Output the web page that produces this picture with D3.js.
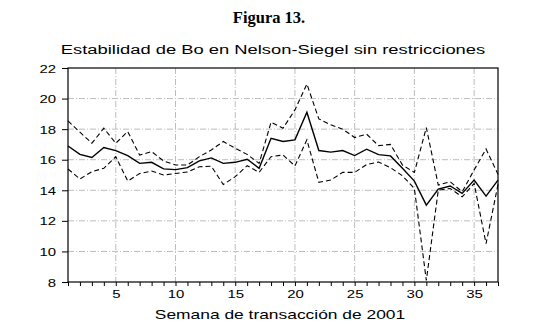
<!DOCTYPE html>
<html>
<head>
<meta charset="utf-8">
<script src="https://cdn.jsdelivr.net/npm/d3@7/dist/d3.min.js"></script>
<style>
  html, body { margin: 0; padding: 0; background: #fff; }
  svg { display: block; }
</style>
</head>
<body>
<svg id="chart" width="555" height="334"></svg>
<script>
// Weekly estimates of Bo (Nelson-Siegel, unrestricted) with upper/lower bands
const weeks = d3.range(1, 38);
const central = [16.9, 16.35, 16.15, 16.8, 16.6, 16.27, 15.76, 15.83, 15.4, 15.35,
                 15.48, 15.92, 16.12, 15.76, 15.83, 16.03, 15.44, 17.4, 17.19, 17.3,
                 19.11, 16.6, 16.5, 16.6, 16.27, 16.69, 16.33, 16.25, 15.44, 14.6,
                 13.03, 14.08, 14.28, 13.8, 14.67, 13.62, 14.67];
const upper = [18.54, 17.8, 17.08, 18.06, 17.08, 17.84, 16.3, 16.53, 15.92, 15.65,
               15.65, 16.2, 16.64, 17.19, 16.75, 16.35, 15.76, 18.46, 18.06, 19.26,
               20.95, 18.67, 18.28, 18.0, 17.45, 17.67, 16.92, 17.0, 15.65, 15.17,
               18.1, 14.34, 14.56, 13.9, 15.33, 16.7, 15.04];
const lower = [15.39, 14.74, 15.22, 15.44, 16.2, 14.6, 15.1, 15.26, 15.0, 15.1,
               15.2, 15.54, 15.57, 14.38, 14.89, 15.61, 15.17, 16.2, 16.31, 15.59,
               17.3, 14.52, 14.67, 15.17, 15.17, 15.68, 15.85, 15.48, 14.95, 14.12,
               8.1, 14.01, 14.12, 13.57, 14.45, 10.51, 14.38];
const yTicks = [8, 10, 12, 14, 16, 18, 20, 22];
const xTicks = [5, 10, 15, 20, 25, 30, 35];

const svg = d3.select("#chart");
const plotL = 68, plotR = 498, plotT = 68, plotB = 282;
const SANS = "'Liberation Sans', Arial, sans-serif";

const x = d3.scaleLinear().domain([1, 37]).range([plotL, plotR]);
const y = d3.scaleLinear().domain([8, 22]).range([plotB, plotT]);

// headings (sans-serif lettering is drawn slightly widened)
function stretchedText(g, tx, ty, txt, size, family, weight, sx) {
  return g.append("text")
    .attr("transform", `translate(${tx},${ty}) scale(${sx},1)`)
    .attr("text-anchor", "middle")
    .attr("font-family", family)
    .attr("font-size", size)
    .attr("font-weight", weight)
    .attr("fill", "#000")
    .text(txt);
}
stretchedText(svg, 269, 22.5, "Figura 13.", 16.5, "'Liberation Serif', 'Times New Roman', serif", "bold", 1);
stretchedText(svg, 273, 54, "Estabilidad de Bo en Nelson-Siegel sin restricciones", 13.5, SANS, "normal", 1.36);
stretchedText(svg, 280, 319, "Semana de transacción de 2001", 12, SANS, "normal", 1.45);

// grid
const grid = svg.append("g").attr("stroke", "#bdbdbd").attr("stroke-width", 1)
  .attr("stroke-dasharray", "6,2,1,2").attr("fill", "none");
grid.selectAll("line.v").data(xTicks).join("line").attr("class", "v")
  .attr("x1", d => x(d)).attr("x2", d => x(d)).attr("y1", plotT).attr("y2", plotB);
grid.selectAll("line.h").data(yTicks.filter(d => d > 8 && d < 22)).join("line").attr("class", "h")
  .attr("y1", d => y(d)).attr("y2", d => y(d)).attr("x1", plotL).attr("x2", plotR);

// axes
const yAxis = svg.append("g").attr("transform", `translate(${plotL},0)`)
  .call(d3.axisLeft(y).tickValues(yTicks).tickSize(6).tickPadding(4));
const xAxis = svg.append("g").attr("transform", `translate(0,${plotB})`)
  .call(d3.axisBottom(x).tickValues(weeks).tickSize(4).tickPadding(4)
    .tickFormat(d => xTicks.includes(d) ? d : ""));
[yAxis, xAxis].forEach(a => {
  a.select(".domain").remove();
  a.selectAll("line").attr("stroke", "#000");
  a.selectAll("text").attr("font-family", SANS)
    .attr("font-size", 11.5).attr("fill", "#000");
});
yAxis.selectAll("text").attr("x", null).attr("dy", "0.35em")
  .attr("transform", "translate(-12,0) scale(1.3,1)");
xAxis.selectAll("text").attr("dy", "0.71em").attr("y", null)
  .attr("transform", "translate(0,8) scale(1.3,1)");

// frame
svg.append("rect").attr("x", plotL).attr("y", plotT)
  .attr("width", plotR - plotL).attr("height", plotB - plotT)
  .attr("fill", "none").attr("stroke", "#000").attr("stroke-width", 1.2);

// series
const line = d3.line().x((d, i) => x(weeks[i])).y(d => y(d));
svg.append("path").datum(upper).attr("d", line).attr("fill", "none")
  .attr("stroke", "#000").attr("stroke-width", 1.1).attr("stroke-dasharray", "5,3");
svg.append("path").datum(lower).attr("d", line).attr("fill", "none")
  .attr("stroke", "#000").attr("stroke-width", 1.1).attr("stroke-dasharray", "5,3");
svg.append("path").datum(central).attr("d", line).attr("fill", "none")
  .attr("stroke", "#000").attr("stroke-width", 1.4);
</script>
</body>
</html>
